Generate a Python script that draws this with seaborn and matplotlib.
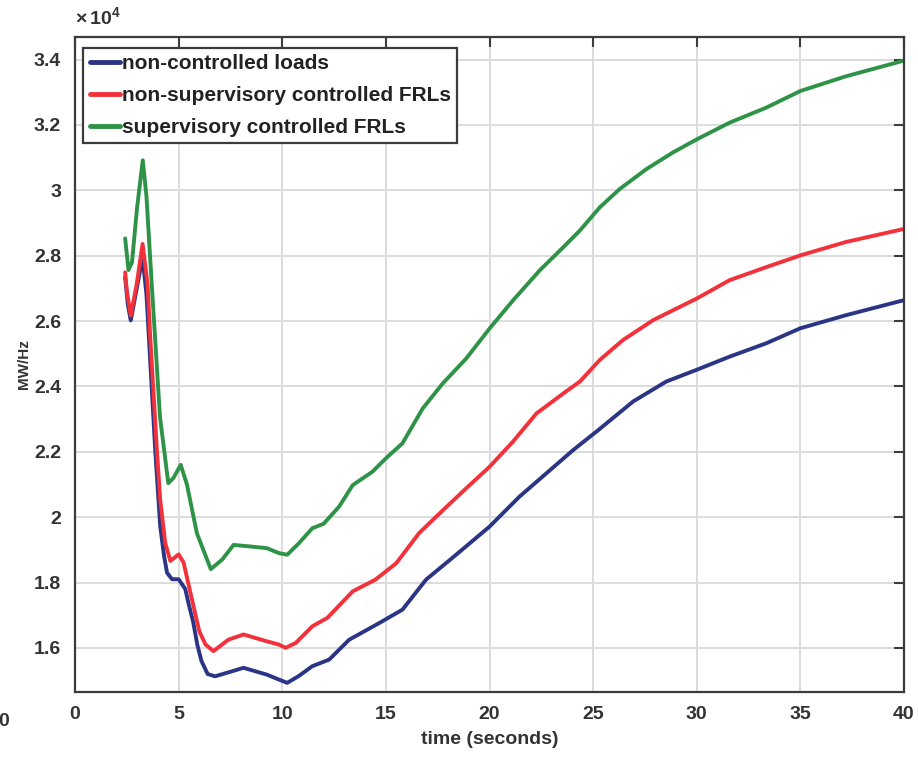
import numpy as np
import pandas as pd
import matplotlib
matplotlib.use("Agg")
import matplotlib.pyplot as plt
from matplotlib.ticker import FuncFormatter
import seaborn as sns

# values (MW/Hz)
t_blue = [2.42, 2.55, 2.69, 2.98, 3.26, 3.45, 3.6, 3.87, 4.11, 4.3, 4.44, 4.68, 5.0, 5.32, 5.5,
          5.7, 5.9, 6.1, 6.4, 6.76, 7.4, 8.13, 9.26, 9.84, 10.24, 10.8, 11.45, 12.26, 13.23,
          14.68, 15.8, 16.94, 18.2, 20.0, 21.45, 22.74, 24.03, 25.24, 26.93, 28.53, 30.0,
          31.58, 33.35, 35.0, 37.2, 40.0]
blue = [27340, 26500, 26020, 27000, 27950, 26800, 25100, 22060, 19730, 18800, 18300, 18100,
        18100, 17800, 17300, 16800, 16100, 15600, 15200, 15130, 15250, 15390, 15180, 15030,
        14930, 15140, 15440, 15640, 16250, 16760, 17170, 18090, 18750, 19710, 20630, 21340,
        22050, 22660, 23540, 24150, 24510, 24910, 25320, 25780, 26180, 26640]

t_red = [2.42, 2.5, 2.69, 2.98, 3.26, 3.5, 3.63, 3.76, 3.95, 4.11, 4.35, 4.6, 5.0, 5.24, 5.6,
         6.0, 6.3, 6.68, 7.4, 8.13, 9.26, 9.84, 10.16, 10.65, 11.45, 12.18, 13.4, 14.5, 15.5,
         16.6, 17.6, 18.87, 20.0, 21.13, 22.26, 23.55, 24.36, 25.32, 26.44, 27.9, 30.0, 31.58,
         33.35, 35.0, 37.2, 40.0]
red = [27490, 26930, 26170, 27140, 28360, 27140, 25500, 24090, 22060, 20540, 19220, 18660,
       18860, 18610, 17600, 16500, 16100, 15900, 16250, 16410, 16200, 16100, 16000, 16150,
       16660, 16920, 17730, 18090, 18590, 19510, 20120, 20880, 21540, 22310, 23170, 23780,
       24150, 24810, 25420, 26030, 26690, 27250, 27650, 28010, 28420, 28820]

t_green = [2.42, 2.58, 2.75, 3.0, 3.27, 3.45, 3.7, 4.1, 4.5, 4.75, 5.1, 5.4, 5.88, 6.55, 7.1,
           7.65, 8.5, 9.26, 9.84, 10.24, 10.8, 11.45, 12.0, 12.74, 13.4, 14.35, 15.0, 15.8,
           16.77, 17.74, 18.87, 20.0, 21.13, 22.42, 23.4, 24.36, 25.32, 26.28, 27.57, 28.85,
           30.0, 31.58, 33.35, 35.0, 37.2, 40.0]
green = [28530, 27560, 27800, 29500, 30920, 29800, 27150, 23070, 21040, 21200, 21600, 21000,
         19510, 18410, 18700, 19150, 19100, 19050, 18900, 18850, 19200, 19660, 19800, 20320,
         20980, 21390, 21800, 22260, 23320, 24090, 24850, 25770, 26630, 27550, 28160, 28770,
         29480, 30040, 30650, 31160, 31560, 32070, 32530, 33040, 33490, 33970]

labels = ["non-controlled loads", "non-supervisory controlled FRLs", "supervisory controlled FRLs"]
colors = ["#2b3585", "#f2313a", "#2f9347"]
x_ticks = [0, 5, 10, 15, 20, 25, 30, 35, 40]
y_ticks = [16000, 18000, 20000, 22000, 24000, 26000, 28000, 30000, 32000, 34000]

df = pd.concat([
    pd.DataFrame({"t": t_blue, "v": blue, "s": labels[0]}),
    pd.DataFrame({"t": t_red, "v": red, "s": labels[1]}),
    pd.DataFrame({"t": t_green, "v": green, "s": labels[2]}),
])

sns.set_style("whitegrid")
plt.rcParams["font.family"] = ["Liberation Sans", "DejaVu Sans"]
plt.rcParams["font.weight"] = "bold"
plt.rcParams["mathtext.fontset"] = "custom"
plt.rcParams["mathtext.rm"] = "Liberation Sans:bold"
plt.rcParams["mathtext.bf"] = "Liberation Sans:bold"

fig = plt.figure(figsize=(9.18, 7.63), dpi=100)
ax = fig.add_axes([0.0817, 0.0935, 0.9031, 0.8575])

sns.lineplot(data=df, x="t", y="v", hue="s", palette=colors, sort=False, estimator=None,
             linewidth=2.8, ax=ax)

ax.set_xlim(0, 40)
ax.set_ylim(14660, 34680)
ax.set_xticks(x_ticks)
ax.set_yticks(y_ticks)
ax.yaxis.set_major_formatter(FuncFormatter(lambda v, p: "%g" % round(v / 1e4, 1)))

edge = "#3c3c3c"
for sp in ax.spines.values():
    sp.set_color(edge)
    sp.set_linewidth(1.6)
ax.grid(True, color="#dcdcdc", linewidth=1.4)
ax.tick_params(direction="in", top=True, right=True, length=7, width=1.5, color=edge,
               labelsize=14, labelcolor="#333333", pad=10)
for lab in ax.get_xticklabels() + ax.get_yticklabels():
    lab.set_fontweight("bold")

ax.set_xlabel("time (seconds)", fontsize=14, fontweight="bold", color="#333333", labelpad=6)
ax.set_ylabel("MW/Hz", fontsize=11, fontweight="bold", color="#333333", labelpad=2)

ax.text(0.0, 1.012, r"$\times\,10^{4}$", transform=ax.transAxes, fontsize=14,
        color="#333333", ha="left", va="bottom")
fig.text(-0.002, 0.048, "0", fontsize=14, fontweight="bold", color="#333333")

leg = ax.legend(loc="upper left", bbox_to_anchor=(0.005, 0.99), fancybox=False,
                framealpha=1, edgecolor=edge, fontsize=15, handlelength=1.45,
                handletextpad=0.1, labelspacing=0.62, borderpad=0.3, borderaxespad=0.2)
leg.get_frame().set_linewidth(1.6)
for line in leg.get_lines():
    line.set_linewidth(3.5)
for text in leg.get_texts():
    text.set_fontweight("bold")
    text.set_color("#222222")

fig.savefig("out.png", dpi=100)
